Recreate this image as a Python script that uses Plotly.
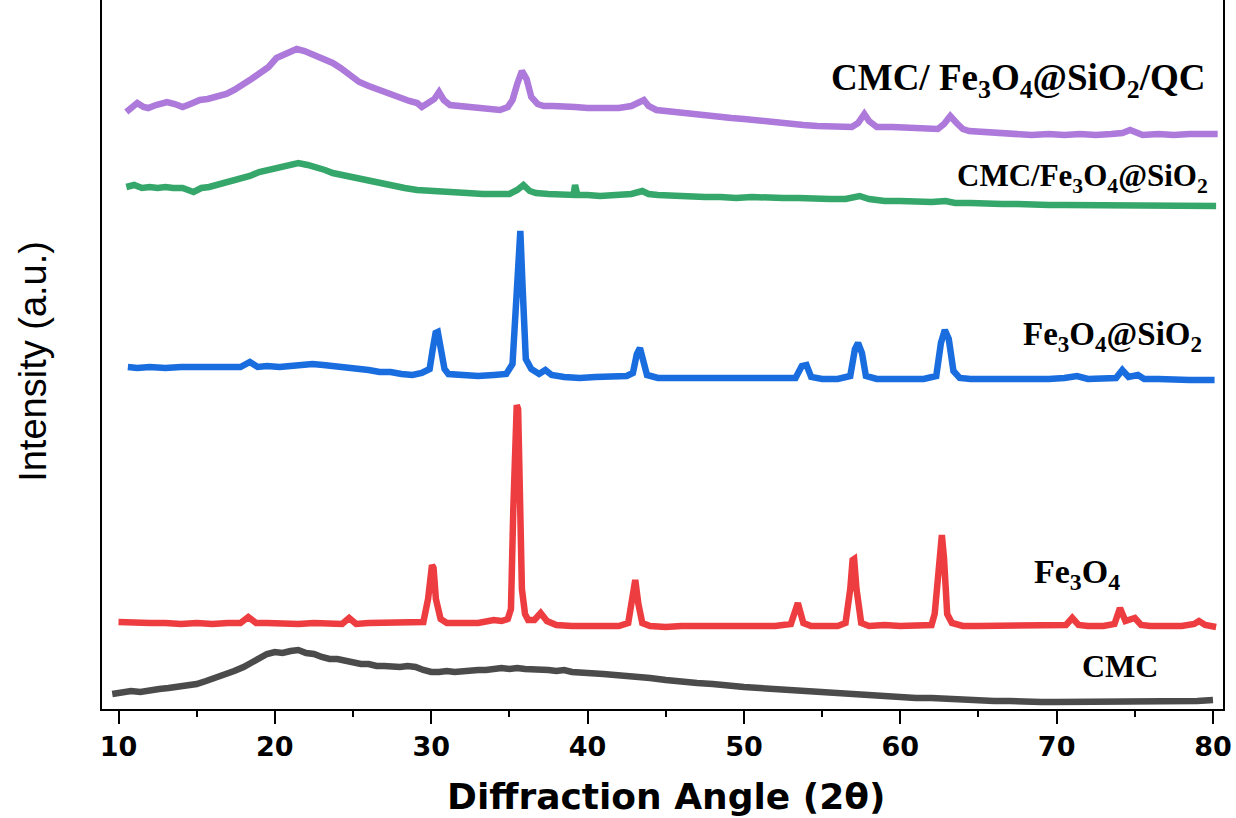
import plotly.graph_objects as go

# XRD patterns (2θ in degrees, intensity in a.u., already stacked with vertical offsets)
cmc_tt = [9.6, 10.2, 10.8, 11.4, 12.0, 12.6, 13.2, 13.8, 14.4, 15.0, 15.6, 16.2, 16.8, 17.4, 18.0, 18.5,
          19.0, 19.5, 20.0, 20.5, 21.0, 21.5, 22.0, 22.5, 23.0, 23.5, 24.0, 24.5, 25.0, 25.5, 26.0, 26.5,
          27.0, 27.5, 28.0, 28.5, 29.0, 29.5, 30.0, 30.5, 31.0, 31.5, 32.0, 32.5, 33.0, 33.5, 34.0, 34.5,
          35.0, 35.5, 36.0, 36.5, 37.0, 37.5, 38.0, 38.5, 39.0, 39.5, 40.0, 41.0, 42.0, 43.0, 44.0, 45.0,
          46.0, 47.0, 48.0, 49.0, 50.0, 51.0, 52.0, 53.0, 54.0, 55.0, 56.0, 57.0, 58.0, 59.0, 60.0, 61.0,
          62.0, 63.0, 64.0, 65.0, 66.0, 67.0, 68.0, 69.0, 70.0, 71.0, 72.0, 73.0, 74.0, 75.0, 76.0, 77.0,
          78.0, 79.0, 80.0]
cmc_int = [15, 17, 18, 17, 19, 20, 21, 22, 23, 25, 28, 31, 35, 38, 42, 46,
           51, 55, 57, 56, 58, 59, 56, 55, 52, 50, 50, 48, 46, 45, 45, 43,
           43, 42, 42, 43, 42, 39, 37, 37, 38, 37, 38, 38, 39, 39, 40, 41,
           40, 41, 40, 40, 39, 39, 38, 39, 37, 37, 36, 35, 34, 33, 31, 29,
           27, 26, 25, 23, 22, 21, 20, 19, 18, 17, 15, 14, 13, 13, 12, 11,
           11, 10, 9, 8, 8, 8, 7, 7, 7, 7, 8, 7, 8, 8, 8, 7,
           8, 8, 9]

fe3o4_tt = [10.0, 11.0, 12.0, 13.0, 14.0, 15.0, 16.0, 17.0, 17.8, 18.3, 18.8, 19.5, 20.5, 21.5, 22.5, 23.5,
            24.3, 24.75, 25.2, 26.0, 27.0, 28.0, 29.0, 29.5, 29.8, 29.95, 30.05, 30.15, 30.3, 30.6, 31.0, 32.0,
            33.0, 34.0, 34.5, 34.9, 35.1, 35.25, 35.38, 35.47, 35.56, 35.68, 35.8, 36.0, 36.2, 36.6, 37.0, 37.4,
            38.0, 39.0, 40.0, 41.0, 42.0, 42.6, 42.8, 42.95, 43.05, 43.25, 43.5, 44.0, 45.0, 46.0, 47.0, 48.0,
            49.0, 50.0, 51.0, 52.0, 53.0, 53.35, 53.45, 53.8, 54.3, 55.0, 56.0, 56.5, 56.8, 56.95, 57.05, 57.2,
            57.5, 58.0, 59.0, 60.0, 61.0, 62.0, 62.2, 62.45, 62.56, 62.66, 62.8, 63.0, 63.3, 64.0, 65.0, 66.0,
            67.0, 68.0, 69.0, 70.0, 70.6, 71.0, 71.4, 72.0, 73.0, 73.7, 74.05, 74.4, 75.0, 75.4, 76.0, 77.0,
            78.0, 78.8, 79.1, 79.5, 80.2]
fe3o4_int = [87, 86, 86, 86, 85, 86, 85, 86, 86, 92, 86, 86, 85, 85, 86, 86,
             85, 91, 85, 86, 86, 86, 86, 87, 110, 141, 144, 141, 110, 90, 86, 86,
             86, 89, 88, 90, 100, 200, 300, 304, 300, 220, 120, 95, 89, 89, 96, 88,
             84, 83, 83, 83, 83, 86, 105, 128, 129, 105, 86, 83, 82, 83, 83, 82,
             82, 83, 82, 83, 85, 105, 106, 86, 83, 83, 83, 86, 120, 149, 150, 120,
             86, 83, 84, 83, 83, 84, 95, 150, 173, 174, 150, 95, 86, 83, 83, 83,
             83, 83, 83, 83, 84, 91, 84, 83, 83, 85, 101, 88, 91, 84, 83, 83,
             83, 85, 88, 84, 82]

fe3o4_sio2_tt = [10.6, 11.2, 12.0, 13.0, 14.0, 15.0, 16.0, 17.0, 17.8, 18.4, 18.9, 19.5, 20.3, 21.0, 21.7, 22.4,
                 23.1, 23.8, 24.6, 25.3, 26.0, 26.7, 27.4, 28.1, 28.8, 29.4, 29.9, 30.1, 30.28, 30.42, 30.6, 30.85,
                 31.1, 32.0, 33.0, 34.0, 34.8, 35.2, 35.45, 35.6, 35.7, 35.85, 36.05, 36.4, 36.9, 37.3, 37.7, 38.5,
                 39.5, 40.5, 41.5, 42.5, 42.9, 43.15, 43.35, 43.55, 43.8, 44.5, 45.5, 46.5, 47.5, 48.5, 49.5, 50.5,
                 51.5, 52.5, 53.3, 53.7, 54.0, 54.3, 55.0, 56.0, 56.8, 57.1, 57.3, 57.55, 57.8, 58.5, 59.5, 60.5,
                 61.5, 62.3, 62.6, 62.85, 63.1, 63.4, 63.8, 64.5, 65.5, 66.5, 67.5, 68.5, 69.5, 70.5, 71.3, 72.0,
                 73.0, 73.8, 74.2, 74.6, 75.2, 75.6, 76.5, 77.5, 78.5, 79.5, 80.1]
fe3o4_sio2_int = [342, 341, 342, 341, 342, 342, 341, 342, 342, 347, 342, 343, 342, 343, 344, 345,
                  344, 343, 341, 340, 339, 337, 337, 335, 334, 336, 340, 360, 376, 377, 360, 340,
                  335, 334, 333, 334, 335, 345, 420, 477, 478, 420, 350, 340, 335, 339, 334, 332,
                  331, 332, 332, 333, 336, 355, 361, 350, 334, 331, 331, 330, 330, 330, 330, 330,
                  330, 330, 331, 343, 344, 332, 330, 330, 333, 360, 366, 356, 333, 330, 330, 330,
                  330, 333, 366, 379, 370, 338, 331, 330, 330, 329, 330, 330, 330, 331, 333, 330,
                  330, 331, 339, 332, 334, 330, 330, 329, 329, 329, 329]

cmc_fe3o4_sio2_tt = [10.5, 11.0, 11.5, 12.0, 12.5, 13.0, 13.5, 14.1, 14.8, 15.3, 15.8, 16.3, 16.8, 17.3, 17.8, 18.4,
                     19.0, 19.6, 20.3, 20.9, 21.5, 22.1, 22.7, 23.2, 23.7, 24.3, 24.8, 25.4, 25.9, 26.5, 27.0, 27.6,
                     28.3, 29.1, 29.8, 30.5, 31.2, 32.3, 33.3, 34.4, 35.0, 35.5, 35.9, 36.3, 36.7, 37.5, 38.2, 38.7,
                     39.1, 39.2, 39.35, 40.0, 40.8, 41.8, 42.8, 43.5, 43.9, 44.5, 45.5, 46.5, 47.5, 48.5, 49.5, 50.5,
                     51.5, 52.5, 53.5, 54.5, 55.5, 56.5, 57.4, 58.0, 59.0, 60.0, 61.0, 62.0, 62.9, 63.5, 64.5, 65.5,
                     66.5, 67.5, 68.5, 69.5, 70.5, 71.5, 72.5, 73.5, 74.5, 75.5, 76.5, 77.5, 78.5, 79.5, 80.2]
cmc_fe3o4_sio2_int = [522, 524, 521, 522, 521, 522, 521, 521, 517, 521, 522, 524, 526, 528, 530, 533,
                      537, 539, 542, 544, 546, 544, 542, 539, 536, 534, 532, 530, 529, 526, 524, 522,
                      521, 519, 518, 518, 517, 516, 515, 514, 515, 519, 524, 518, 516, 515, 515, 514,
                      514, 524, 514, 514, 513, 514, 515, 518, 515, 514, 513, 513, 512, 512, 511, 512,
                      511, 511, 511, 510, 510, 510, 513, 510, 508, 508, 507, 507, 508, 506, 506, 505,
                      505, 505, 504, 504, 504, 504, 504, 503, 504, 503, 503, 503, 503, 503, 503]

cmc_qc_tt = [10.5, 10.9, 11.2, 11.6, 11.9, 12.4, 12.8, 13.1, 13.6, 14.1, 14.6, 15.2, 15.7, 16.3, 16.9, 17.4,
             18.0, 18.5, 19.05, 19.6, 20.1, 20.6, 21.0, 21.4, 21.9, 22.4, 22.9, 23.3, 23.7, 24.2, 24.8, 25.4,
             26.0, 26.5, 26.9, 27.5, 28.1, 28.6, 29.1, 29.4, 29.8, 30.2, 30.5, 30.8, 31.2, 31.8, 32.5, 33.3,
             33.9, 34.4, 34.9, 35.2, 35.5, 35.8, 36.1, 36.4, 36.8, 37.2, 37.8, 38.5, 39.2, 40.0, 41.0, 42.0,
             42.8, 43.3, 43.6, 43.9, 44.4, 45.0, 46.0, 47.0, 48.0, 49.2, 50.0, 51.0, 52.0, 53.0, 53.8, 54.7,
             55.5, 56.3, 56.9, 57.3, 57.7, 58.0, 58.5, 59.5, 60.5, 61.5, 62.4, 62.8, 63.2, 63.6, 64.0, 64.4,
             65.5, 66.5, 67.5, 68.4, 69.5, 70.5, 71.5, 72.5, 73.5, 74.2, 74.7, 75.2, 75.5, 76.5, 77.5, 78.5,
             79.5, 80.3]
cmc_qc_int = [597, 603, 606, 602, 601, 604, 606, 607, 605, 602, 605, 609, 610, 612, 615, 619,
              626, 630, 636, 642, 651, 655, 657, 660, 658, 655, 652, 649, 646, 641, 634, 627,
              623, 620, 617, 614, 611, 608, 606, 602, 606, 610, 617, 609, 604, 603, 602, 601,
              600, 599, 602, 609, 625, 638, 630, 612, 605, 603, 603, 603, 602, 601, 601, 601,
              603, 607, 609, 603, 599, 598, 596, 594, 593, 591, 590, 588, 586, 584, 584, 583,
              583, 582, 582, 586, 595, 588, 582, 582, 581, 581, 580, 585, 593, 586, 580, 578,
              577, 576, 575, 574, 575, 574, 575, 574, 575, 576, 579, 575, 574, 575, 574, 575,
              575, 575]

series = [
    ("CMC", cmc_tt, cmc_int, "#4b4b4b"),
    ("Fe3O4", fe3o4_tt, fe3o4_int, "#ee3d40"),
    ("Fe3O4@SiO2", fe3o4_sio2_tt, fe3o4_sio2_int, "#1a6ddf"),
    ("CMC/Fe3O4@SiO2", cmc_fe3o4_sio2_tt, cmc_fe3o4_sio2_int, "#36a76a"),
    ("CMC/ Fe3O4@SiO2/QC", cmc_qc_tt, cmc_qc_int, "#ad79da"),
]

fig = go.Figure()
for name, tt, inten, color in series:
    fig.add_trace(go.Scatter(x=tt, y=inten, mode="lines", name=name,
                             line=dict(color=color, width=6.5)))

serif = "Liberation Serif, Times New Roman, serif"
labels = [
    ("CMC/ Fe<sub>3</sub>O<sub>4</sub>@SiO<sub>2</sub>/QC", 0.9857, 0.887, "right", 37),
    ("CMC/Fe<sub>3</sub>O<sub>4</sub>@SiO<sub>2</sub>", 0.988, 0.749, "right", 31),
    ("Fe<sub>3</sub>O<sub>4</sub>@SiO<sub>2</sub>", 0.983, 0.526, "right", 33),
    ("Fe<sub>3</sub>O<sub>4</sub>", 0.870, 0.190, "center", 34),
    ("CMC", 0.908, 0.0606, "center", 32),
]
for text, ax, ay, anchor, size in labels:
    fig.add_annotation(text="<b>" + text + "</b>", xref="paper", yref="paper", x=ax, y=ay,
                       xanchor=anchor, yanchor="middle", showarrow=False,
                       font=dict(family=serif, size=size, color="black"))

fig.add_annotation(text="Intensity (a.u.)", xref="paper", yref="paper", x=-0.0616, y=0.491,
                   xanchor="center", yanchor="middle", textangle=-90, showarrow=False,
                   font=dict(family="Liberation Sans, Arial, sans-serif", size=38, color="black"))
fig.add_annotation(text="<b>Diffraction Angle (2θ)</b>", xref="paper", yref="paper", x=0.503, y=-0.123,
                   xanchor="center", yanchor="middle", showarrow=False,
                   font=dict(family="DejaVu Sans, sans-serif", size=36, color="black"))

fig.update_layout(
    width=1236, height=818,
    margin=dict(l=102, r=13, t=0, b=109),
    paper_bgcolor="white", plot_bgcolor="white",
    showlegend=False,
    xaxis=dict(range=[8.945, 80.64], tickmode="array", tickvals=[10, 20, 30, 40, 50, 60, 70, 80],
               ticktext=["10", "20", "30", "40", "50", "60", "70", "80"],
               ticks="outside", ticklen=13, tickwidth=2, tickcolor="black",
               minor=dict(ticks="outside", ticklen=6, tickwidth=2, tickcolor="black", dtick=5, tick0=5),
               showline=True, linecolor="black", linewidth=2, showgrid=False, zeroline=False,
               tickfont=dict(family="DejaVu Sans, sans-serif", size=27, color="black", weight="bold")),
    yaxis=dict(range=[0, 709], showticklabels=False, ticks="", showline=True, mirror=True,
               linecolor="black", linewidth=2, showgrid=False, zeroline=False),
)

fig.write_html("out.html")
